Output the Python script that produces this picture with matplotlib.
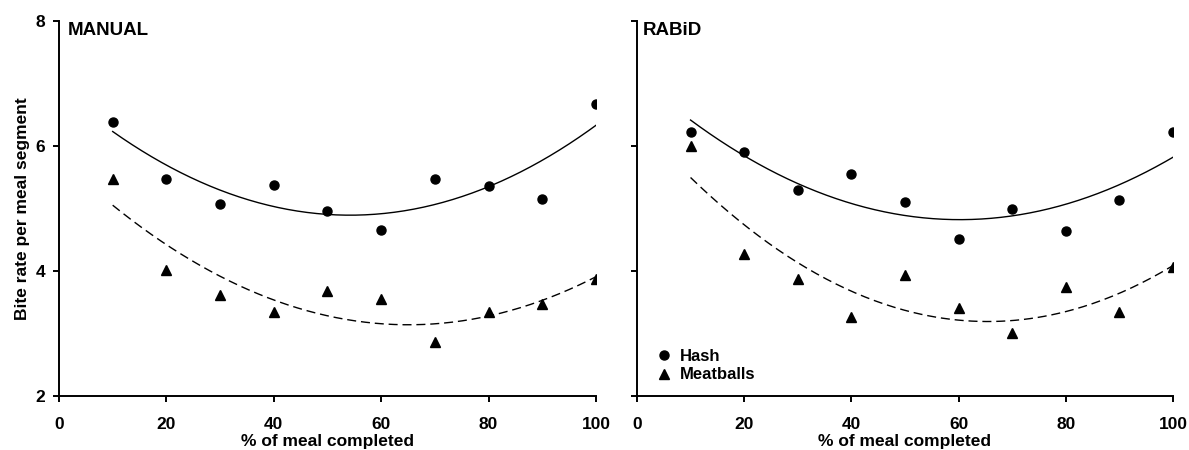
import numpy as np
import matplotlib
matplotlib.use("Agg")
import matplotlib.pyplot as plt

# dados
pct = [10, 20, 30, 40, 50, 60, 70, 80, 90, 100]

manual_hash = [6.38, 5.47, 5.08, 5.38, 4.96, 4.66, 5.47, 5.36, 5.16, 6.67]
manual_meatballs = [5.48, 4.01, 3.61, 3.34, 3.68, 3.55, 2.87, 3.34, 3.48, 3.88]

rabid_hash = [6.22, 5.91, 5.30, 5.55, 5.10, 4.52, 5.00, 4.64, 5.14, 6.22]
rabid_meatballs = [6.00, 4.27, 3.87, 3.27, 3.94, 3.41, 3.01, 3.74, 3.34, 4.07]

plt.rcParams["font.family"] = ["Liberation Sans", "DejaVu Sans"]
plt.rcParams["font.weight"] = "bold"
plt.rcParams["font.size"] = 12.5

fig = plt.figure(figsize=(11.89, 4.5), dpi=100)
ax1 = fig.add_axes([0.0496, 0.12, 0.4516, 0.8333])
ax2 = fig.add_axes([0.5357, 0.12, 0.4508, 0.8333])

x_fit = np.linspace(10, 100, 200)

for ax, hash_vals, meat_vals, titulo, dx in [
    (ax1, manual_hash, manual_meatballs, "MANUAL", 0.016),
    (ax2, rabid_hash, rabid_meatballs, "RABiD", 0.010),
]:
    ax.plot(pct, hash_vals, linestyle="none", marker="o", markersize=6.5,
            color="black", label="Hash")
    ax.plot(pct, meat_vals, linestyle="none", marker="^", markersize=7,
            color="black", label="Meatballs")

    # ajuste quadrático
    c_hash = np.polyfit(pct, hash_vals, 2)
    c_meat = np.polyfit(pct, meat_vals, 2)
    ax.plot(x_fit, np.polyval(c_hash, x_fit), color="black", linewidth=1)
    ax.plot(x_fit, np.polyval(c_meat, x_fit), color="black", linewidth=1,
            dashes=(6.5, 3.5))

    ax.set_xlim(0, 100)
    ax.set_ylim(2, 8)
    ax.set_xticks([0, 20, 40, 60, 80, 100])
    ax.set_yticks([2, 4, 6, 8])
    ax.spines["top"].set_visible(False)
    ax.spines["right"].set_visible(False)
    ax.spines["left"].set_linewidth(1.4)
    ax.spines["bottom"].set_linewidth(1.4)
    ax.tick_params(direction="out", length=4.5, width=1.4, labelsize=12.5)
    ax.tick_params(axis="x", pad=10.5)
    ax.tick_params(axis="y", pad=5.5)
    ax.set_xlabel("% of meal completed", fontsize=12.5, fontweight="bold",
                  labelpad=1.5)
    ax.text(dx, 0.997, titulo, transform=ax.transAxes, ha="left", va="top",
            fontsize=13.5, fontweight="bold")

ax1.set_ylabel("Bite rate per meal segment", fontsize=12.5, fontweight="bold",
               labelpad=4)
ax2.tick_params(labelleft=False)

ax2.legend(loc="lower left", bbox_to_anchor=(0.017, 0.005), frameon=False,
           handlelength=0.8, handletextpad=0.5, labelspacing=0.2,
           borderaxespad=0.3, fontsize=12)

plt.savefig("out.png", dpi=100)
